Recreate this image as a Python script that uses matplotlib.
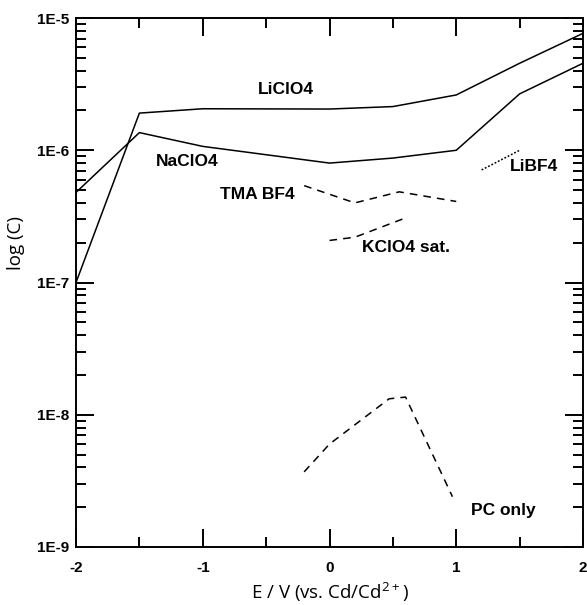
import matplotlib
matplotlib.use("Agg")
import matplotlib.pyplot as plt
from matplotlib.ticker import LogLocator, NullFormatter, FixedLocator

# Data
e_liclo4 = [-2.0, -1.5, -1.0, 0.0, 0.5, 1.0, 1.5, 2.0]
c_liclo4 = [1.0e-7, 1.91e-6, 2.06e-6, 2.05e-6, 2.14e-6, 2.62e-6, 4.55e-6, 7.66e-6]

e_naclo4 = [-2.0, -1.5, -1.0, 0.0, 0.5, 1.0, 1.5, 2.0]
c_naclo4 = [4.8e-7, 1.36e-6, 1.07e-6, 8.0e-7, 8.73e-7, 1.0e-6, 2.67e-6, 4.55e-6]

e_tmabf4 = [-0.2, 0.2, 0.55, 1.0]
c_tmabf4 = [5.4e-7, 4.0e-7, 4.85e-7, 4.1e-7]

e_kclo4 = [0.0, 0.2, 0.6]
c_kclo4 = [2.08e-7, 2.2e-7, 3.08e-7]

e_libf4 = [1.2, 1.5]
c_libf4 = [7.1e-7, 1.0e-6]

e_pc = [-0.2, 0.0, 0.47, 0.6, 0.97]
c_pc = [3.7e-9, 6.0e-9, 1.32e-8, 1.36e-8, 2.4e-9]

labels = ["LiClO4", "NaClO4", "TMA BF4", "KClO4 sat.", "LiBF4", "PC only"]
label_e = [-0.345, -1.124, -0.573, 0.60, 1.61, 1.375]
label_c = [2.86e-6, 8.2e-7, 4.6e-7, 1.84e-7, 7.5e-7, 1.9e-9]

x_ticks = [-2, -1, 0, 1, 2]
y_ticks = [1e-9, 1e-8, 1e-7, 1e-6, 1e-5]
y_ticklabels = ["1E-9", "1E-8", "1E-7", "1E-6", "1E-5"]

bold_font = "Liberation Sans"
label_font = "Open Sans"

fig = plt.figure(figsize=(5.87, 6.05), dpi=100)
ax = fig.add_axes([0.1295, 0.0959, 0.8637, 0.8743])

lw = 1.1
ax.plot(e_liclo4, c_liclo4, color="black", lw=lw)
ax.plot(e_naclo4, c_naclo4, color="black", lw=lw)
ax.plot(e_tmabf4, c_tmabf4, color="black", lw=lw, linestyle=(0, (5, 4)))
ax.plot(e_kclo4, c_kclo4, color="black", lw=lw, linestyle=(0, (5, 4)))
ax.plot(e_libf4, c_libf4, color="black", lw=lw, linestyle=(0, (1.2, 1.2)))
ax.plot(e_pc, c_pc, color="black", lw=lw, linestyle=(0, (5, 4)))

for txt, xe, yc in zip(labels, label_e, label_c):
    ax.text(xe, yc, txt, ha="center", va="center", fontsize=12.5,
            fontweight="bold", family=bold_font)

ax.set_yscale("log")
ax.set_xlim(-2, 2)
ax.set_ylim(1e-9, 1e-5)

ax.xaxis.set_major_locator(FixedLocator(x_ticks))
ax.xaxis.set_minor_locator(FixedLocator([-1.5, -0.5, 0.5, 1.5]))
ax.set_xticklabels([str(t) for t in x_ticks])
ax.yaxis.set_major_locator(FixedLocator(y_ticks))
ax.set_yticklabels(y_ticklabels)
ax.yaxis.set_minor_locator(LogLocator(base=10, subs=range(2, 10)))
ax.yaxis.set_minor_formatter(NullFormatter())

ax.tick_params(which="both", direction="in", top=True, right=True,
               width=1.4, color="black")
ax.tick_params(which="major", length=13)
ax.tick_params(which="minor", length=7)
ax.tick_params(axis="x", which="major", pad=10)
ax.tick_params(axis="y", which="major", pad=5)
for lab in ax.get_xticklabels() + ax.get_yticklabels():
    lab.set_fontsize(11)
    lab.set_fontweight("bold")
    lab.set_family(bold_font)

for sp in ax.spines.values():
    sp.set_linewidth(1.4)

ax.set_xlabel(r"E / V (vs. Cd/Cd$^{\mathregular{2+}}$)", fontsize=13.5,
              family=label_font, labelpad=4)
ax.set_ylabel("log (C)", fontsize=13.5, family=label_font)
ax.yaxis.set_label_coords(-0.10, 0.575)

fig.savefig("out.png", dpi=100)
